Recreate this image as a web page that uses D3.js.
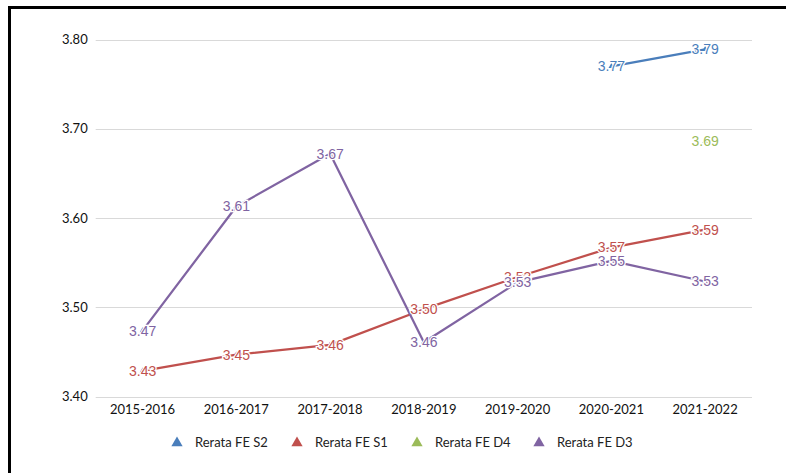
<!DOCTYPE html>
<html>
<head>
<meta charset="utf-8">
<script src="https://cdn.jsdelivr.net/npm/d3@7"></script>
<style>
  body { margin: 0; background: #fff; }
  svg { display: block; }
</style>
</head>
<body>
<div id="viz"></div>
<script>
// data
var categories = ['2015-2016', '2016-2017', '2017-2018', '2018-2019', '2019-2020', '2020-2021', '2021-2022'];
var yTicks = [3.40, 3.50, 3.60, 3.70, 3.80];

var s2Values = [null, null, null, null, null, 3.770, 3.789];
var s1Values = [3.429, 3.447, 3.458, 3.498, 3.534, 3.567, 3.587];
var d4Values = [null, null, null, null, null, null, 3.686];
var d3Values = [3.474, 3.613, 3.672, 3.461, 3.528, 3.552, 3.529];

var seriesNames = ['Rerata FE S2', 'Rerata FE S1', 'Rerata FE D4', 'Rerata FE D3'];
var seriesColors = ['#4a7ebb', '#c0504d', '#9bbb59', '#8064a2'];

var series = [s2Values, s1Values, d4Values, d3Values].map(function(vals, i) {
  return { name: seriesNames[i], color: seriesColors[i], values: vals };
});

var W = 786, H = 473;
var svg = d3.select('#viz').append('svg').attr('width', W).attr('height', H);

// outer frame
svg.append('rect')
  .attr('x', 9.5).attr('y', 7.5)
  .attr('width', 800).attr('height', 500)
  .attr('fill', 'none').attr('stroke', '#000').attr('stroke-width', 3);

var plotL = 95.7, plotR = 752, plotT = 39.5, plotB = 396.7;

var x = d3.scaleBand().domain(categories).range([plotL, plotR]);
var y = d3.scaleLinear().domain([3.40, 3.80]).range([plotB, plotT]);

// gridlines
svg.append('g').selectAll('line')
  .data(yTicks)
  .join('line')
  .attr('x1', plotL).attr('x2', plotR)
  .attr('y1', function(d) { return Math.round(y(d)) + 0.5; })
  .attr('y2', function(d) { return Math.round(y(d)) + 0.5; })
  .attr('stroke', '#d9d9d9').attr('stroke-width', 1);

// y axis labels
var yAxis = svg.append('g')
  .attr('transform', 'translate(' + plotL + ',0)')
  .call(d3.axisLeft(y).tickValues(yTicks).tickFormat(d3.format('.2f')).tickSize(0).tickPadding(8));
yAxis.select('.domain').remove();
yAxis.selectAll('text')
  .attr('font-family', 'Lato, sans-serif').attr('font-size', 13).attr('fill', '#111');

// x axis labels
var xAxis = svg.append('g')
  .attr('transform', 'translate(0,' + plotB + ')')
  .call(d3.axisBottom(x).tickSize(0).tickPadding(8));
xAxis.select('.domain').remove();
xAxis.selectAll('text')
  .attr('font-family', 'Lato, sans-serif').attr('font-size', 13).attr('fill', '#111');

var cx = function(i) { return x(categories[i]) + x.bandwidth() / 2; };

var line = d3.line()
  .defined(function(d) { return d.v != null; })
  .x(function(d) { return cx(d.i); })
  .y(function(d) { return y(d.v); });

series.forEach(function(s) {
  var pts = s.values.map(function(v, i) { return { v: v, i: i }; });
  var g = svg.append('g');
  g.append('path')
    .datum(pts)
    .attr('d', line)
    .attr('fill', 'none')
    .attr('stroke', s.color)
    .attr('stroke-width', 2.25)
    .attr('stroke-linejoin', 'round');
  s.pts = pts.filter(function(d) { return d.v != null; });
});

// markers and labels on top of lines
series.forEach(function(s) {
  var g = svg.append('g');
  g.selectAll('path.m')
    .data(s.pts)
    .join('path')
    .attr('class', 'm')
    .attr('d', d3.symbol().type(d3.symbolTriangle).size(14))
    .attr('transform', function(d) { return 'translate(' + cx(d.i) + ',' + y(d.v) + ')'; })
    .attr('fill', s.color);
  g.selectAll('text')
    .data(s.pts)
    .join('text')
    .attr('x', function(d) { return cx(d.i); })
    .attr('y', function(d) { return y(d.v); })
    .attr('dy', '0.35em')
    .attr('text-anchor', 'middle')
    .attr('font-family', '"Liberation Sans", Arial, sans-serif')
    .attr('font-size', 14)
    .attr('fill', s.color)
    .attr('stroke', '#fff').attr('stroke-width', 2.5)
    .attr('paint-order', 'stroke')
    .text(function(d) { return d3.format('.2f')(d.v); });
});

// legend
var legendX = [177, 297, 417, 539];
var legend = svg.append('g').attr('transform', 'translate(0,442)');
series.forEach(function(s, i) {
  legend.append('path')
    .attr('d', d3.symbol().type(d3.symbolTriangle).size(55))
    .attr('transform', 'translate(' + legendX[i] + ',1)')
    .attr('fill', s.color);
  legend.append('text')
    .attr('x', legendX[i] + 18)
    .attr('y', 0)
    .attr('dy', '0.35em')
    .attr('font-family', 'Lato, sans-serif')
    .attr('font-size', 13)
    .attr('fill', '#222')
    .text(s.name);
});
</script>
</body>
</html>
